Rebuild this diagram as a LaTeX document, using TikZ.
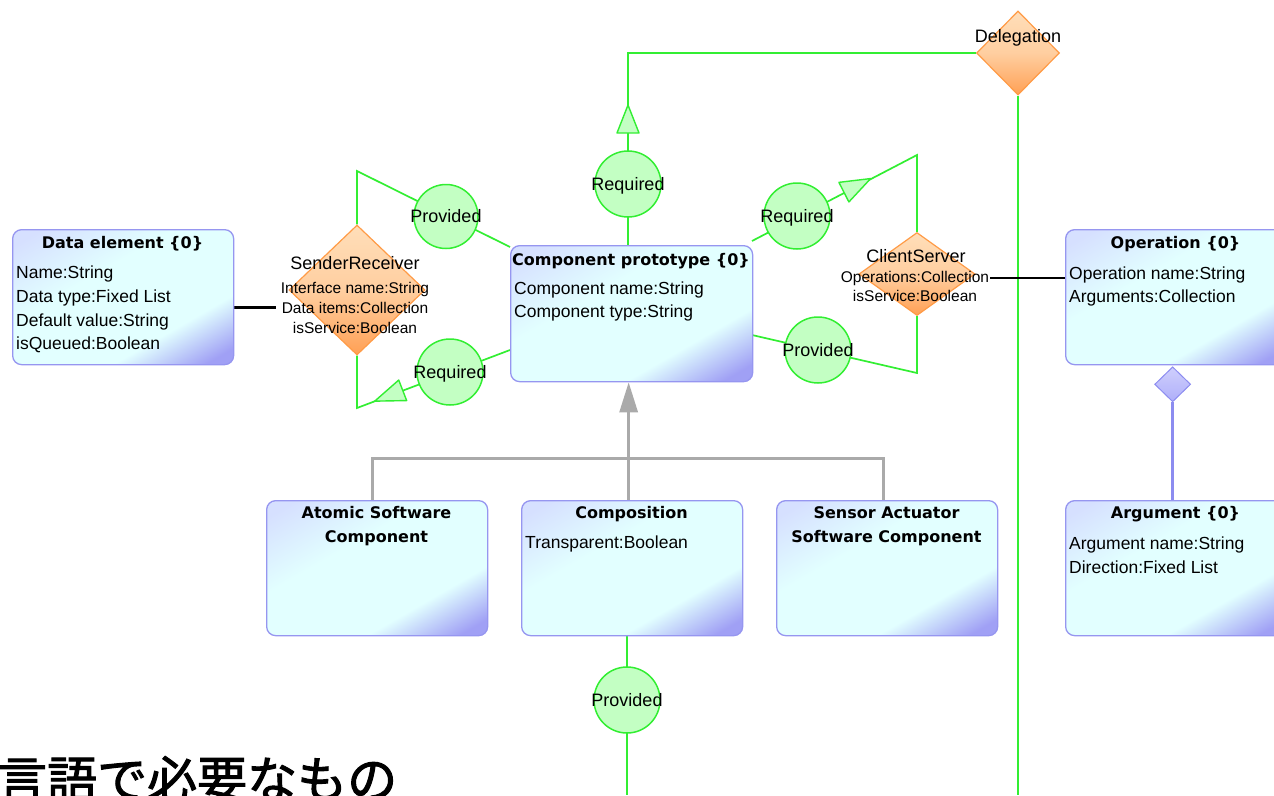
\documentclass[tikz,border=0pt]{standalone}
\usepackage{fontspec}
\setmainfont{Liberation Sans}
\newfontfamily\ttlfont{DejaVu Sans}
\newfontfamily\jpfont[FakeBold=2]{Noto Sans CJK JP}
\usetikzlibrary{shapes.geometric,calc,arrows.meta}

\definecolor{boxEdge}{RGB}{150,150,240}
\definecolor{boxTop}{RGB}{214,224,255}
\definecolor{boxMid}{RGB}{226,255,255}
\definecolor{boxLow}{RGB}{160,160,245}
\definecolor{wire}{RGB}{50,238,50}
\definecolor{bubble}{RGB}{195,255,195}
\definecolor{diaEdge}{RGB}{255,155,70}
\definecolor{diaTop}{RGB}{255,222,185}
\definecolor{diaLow}{RGB}{255,160,85}
\definecolor{genGray}{RGB}{170,170,170}
\definecolor{assoc}{RGB}{140,140,240}
\definecolor{assocFill}{RGB}{175,175,250}

% class box fill: lavender top, cyan body, violet lower-right corner
\pgfdeclareverticalshading{umlfill}{100bp}{color(0bp)=(boxLow); color(20bp)=(boxLow); color(34bp)=(boxMid); color(60bp)=(boxMid); color(80bp)=(boxTop); color(100bp)=(boxTop)}

\pgfdeclarelayer{wires}
\pgfsetlayers{wires,main}

\tikzset{
  umlbox/.style={rectangle, rounded corners=9pt, draw=boxEdge, line width=1.3pt,
    shading=umlfill, shading angle=30, anchor=north west, inner sep=0pt,
    minimum width=221pt, minimum height=135pt},
  ttl/.style={font=\ttlfont\bfseries\fontsize{16}{19}\selectfont, anchor=base, inner sep=0pt},
  attr/.style={font=\fontsize{17.5}{21}\selectfont, anchor=base west, inner sep=0pt},
  rel/.style={diamond, draw=diaEdge, line width=1.2pt, top color=diaTop, bottom color=diaLow,
    middle color=diaTop!75!diaLow, inner sep=0pt},
  rellbl/.style={font=\fontsize{18}{21}\selectfont, anchor=base, inner sep=0pt},
  relattr/.style={font=\fontsize{15.5}{18}\selectfont, anchor=base, inner sep=0pt},
  bub/.style={circle, draw=wire, fill=bubble, line width=1.5pt, minimum size=66pt, inner sep=0pt},
  bublbl/.style={font=\fontsize{18}{21}\selectfont, anchor=base, inner sep=0pt},
  wireline/.style={draw=wire, line width=1.7pt},
  reqtip/.style={draw=wire, fill=bubble, line width=1.4pt, line join=round},
  link/.style={draw=black, line width=2.6pt},
  gen/.style={draw=genGray, line width=3pt},
  assocline/.style={draw=assoc, line width=3pt},
  aggr/.style={diamond, draw=assoc, line width=1pt, top color=assocFill!60!white, bottom color=assocFill,
    inner sep=0pt, minimum width=36pt, minimum height=35pt, anchor=north},
}

% open arrowhead on a wire: #1 bend point, #2 bubble it comes from,
% #3 distance of the tip from the bend, #4 distance of the base
\newcommand\wiretip[4]{%
  \path ($(#1)!#3!(#2)$) coordinate (wtTip) ($(#1)!#4!(#2)$) coordinate (wtBase);
  \draw[reqtip] (wtTip) -- ($(wtBase)!11pt!90:(#2)$) -- ($(wtBase)!11pt!-90:(#2)$) -- cycle;}

\begin{document}
\begin{tikzpicture}[x=1pt,y=-1pt]
\useasboundingbox (0,0) rectangle (1274,795);
\clip (0,0) rectangle (1274,795);

% ---- classes
\node[umlbox] (de) at (12,229) {};
\node[umlbox, minimum width=242pt, minimum height=136pt] (cp) at (510,245) {};
\node[umlbox] (op) at (1065,229) {};
\node[umlbox] (arg) at (1065,500) {};
\node[umlbox] (asc) at (266,500) {};
\node[umlbox] (comp) at (521,500) {};
\node[umlbox] (sasc) at (776,500) {};

\node[ttl] (deT) at (122.5,248) {Data element \{0\}};
\node[attr] (deA) at (16,278) {Name:String};
\node[attr] (deB) at (16,302) {Data type:Fixed List};
\node[attr] (deC) at (16,326) {Default value:String};
\node[attr] (deD) at (16,349) {isQueued:Boolean};

\node[ttl] (cpT) at (631,265.5) {Component prototype \{0\}};
\node[attr] (cpA) at (514,294) {Component name:String};
\node[attr] (cpB) at (514,317) {Component type:String};

\node[ttl] (opT) at (1175.5,248) {Operation \{0\}};
\node[attr] (opA) at (1069,279) {Operation name:String};
\node[attr] (opB) at (1069,302) {Arguments:Collection};

\node[ttl] (argT) at (1175.5,518.5) {Argument \{0\}};
\node[attr] (argA) at (1069,549) {Argument name:String};
\node[attr] (argB) at (1069,573) {Direction:Fixed List};

\node[ttl] (ascT) at (376.5,518.5) {Atomic Software};
\node[ttl] (ascU) at (376.5,542.5) {Component};

\node[ttl] (compT) at (631.5,518.5) {Composition};
\node[attr] (compA) at (525,548.5) {Transparent:Boolean};

\node[ttl] (sascT) at (886.5,518.5) {Sensor Actuator};
\node[ttl] (sascU) at (886.5,542.5) {Software Component};

% ---- interfaces
\node[rel, minimum width=136pt, minimum height=130pt] (sr) at (357,290) {};
\node[rellbl] (srT) at (355,269) {SenderReceiver};
\node[relattr] (srA) at (355,293) {Interface name:String};
\node[relattr] (srB) at (355,313) {Data items:Collection};
\node[relattr] (srC) at (355,333) {isService:Boolean};

\node[rel, minimum width=116pt, minimum height=83pt] (cs) at (917,274) {};
\node[rellbl] (csT) at (916,262) {ClientServer};
\node[relattr] (csA) at (915,282) {Operations:Collection};
\node[relattr] (csB) at (915,301) {isService:Boolean};

\node[rel, minimum width=83pt, minimum height=84pt] (dl) at (1018,53) {};
\node[rellbl] (dlT) at (1018,42) {Delegation};

% ---- ports
\node[bub] (rqTop) at (628,184) {};
\node[bub, minimum size=64pt] (pvSR) at (446,216.5) {};
\node[bub] (rqSR) at (450,372) {};
\node[bub] (rqCS) at (797,216) {};
\node[bub] (pvCS) at (818,350) {};
\node[bub] (pvBot) at (627,700) {};

% bend points of the port wires
\coordinate (srUp) at (357,171);
\coordinate (srDown) at (357,408);
\coordinate (csUp) at (917,155);
\coordinate (csDown) at (917,373);
\coordinate (cpLow) at (510,350);
\coordinate (cpHighR) at (752,241);
\coordinate (cpLowR) at (752,335);
\coordinate (floorA) at (627,795);

\begin{pgfonlayer}{wires}
  \draw[wireline] (rqTop |- cp.north) -- (rqTop |- dl.west) -- (dl.west);
  \draw[wireline] (dl.south) -- (dl.south |- floorA);
  \draw[wireline] (sr.north) -- (srUp) -- ([yshift=-2pt]cp.north west);
  \draw[wireline] (sr.south) -- (srDown) -- (cpLow);
  \draw[wireline] (cs.north) -- (csUp) -- (cpHighR);
  \draw[wireline] (cs.south) -- (csDown) -- (cpLowR);
  \draw[wireline] (pvBot |- comp.south) -- (floorA);

  \draw[link] (de.east |- srB.west) -- ([xshift=-6pt]srB.west);
  \draw[link] ([xshift=1pt]csA.east) -- (op.west |- csA.east);

  \draw[gen] ([xshift=-4.5pt]asc.north) -- ++(0,-42) -| ([xshift=-3.5pt]sasc.north);
  \draw[gen] ([xshift=-3.5pt]comp.north) -- ++(0,-42);
\end{pgfonlayer}

% generalisation arrow into the prototype
\draw[gen, -{Triangle[length=30pt,width=18pt]}] ([xshift=-3.5pt]comp.north) ++(0,-42) coordinate (genJoin)
  (genJoin) -- ([xshift=-3pt]cp.south);

% composition Operation <>-- Argument
\node[aggr] (agd) at ([xshift=-3.5pt,yshift=-1pt]op.south) {};
\draw[assocline] (agd.south) -- (agd.south |- arg.north);

% port bubbles redrawn above the wires, with their labels
\foreach \b in {rqTop,pvSR,rqSR,rqCS,pvCS,pvBot} {\node[bub, minimum size=0pt] at (\b) {};}
\node[bublbl] at ($(rqTop)+(0,6)$) {Required};
\node[bublbl] at ($(pvSR)+(0,6)$) {Provided};
\node[bublbl] at ($(rqSR)+(0,6)$) {Required};
\node[bublbl] at ($(rqCS)+(0,6)$) {Required};
\node[bublbl] at ($(pvCS)+(0,6)$) {Provided};
\node[bublbl] at ($(pvBot)+(0,6)$) {Provided};

\wiretip{rqTop |- dl.west}{rqTop}{52pt}{80pt}
\wiretip{csUp}{rqCS}{52pt}{82pt}
\wiretip{srDown}{rqSR}{19pt}{49pt}

% page text
\node[anchor=base west, inner sep=0pt, font=\jpfont\fontsize{50}{50}\selectfont] (jp) at (-3,798) {言語で必要なもの};
\end{tikzpicture}
\end{document}
